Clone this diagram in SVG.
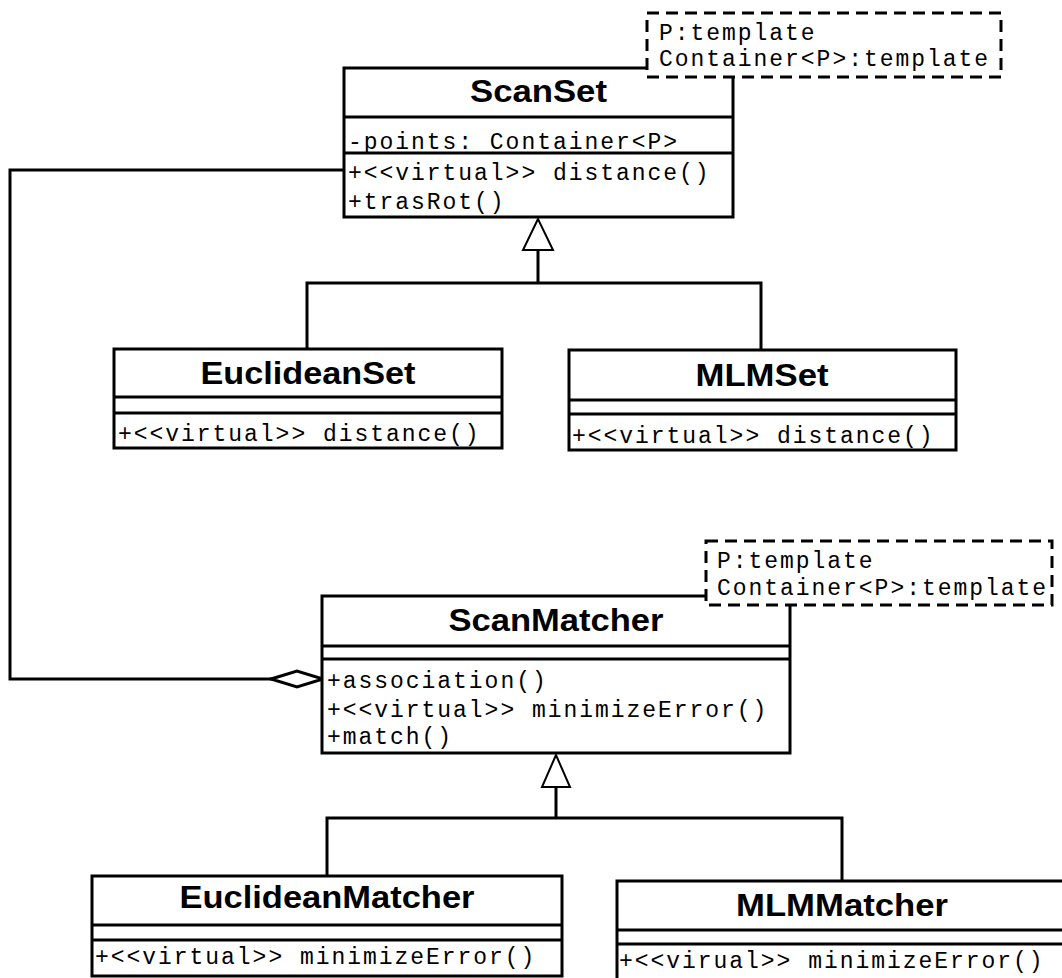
<svg xmlns="http://www.w3.org/2000/svg" width="1062" height="978" viewBox="0 0 1062 978">
<style>
.box{fill:#fff;stroke:#000;stroke-width:3}
.div{stroke:#000;stroke-width:3}
.note{fill:#fff;stroke:#000;stroke-width:3;stroke-dasharray:12 7}
.title{font-family:"Liberation Sans",Arial,sans-serif;font-weight:bold;font-size:31px;text-anchor:middle;fill:#000}
.mono{font-family:"Liberation Mono","Courier New",monospace;font-size:23px;letter-spacing:1.96px;fill:#000}
.conn{fill:none;stroke:#000;stroke-width:3}
.tri{fill:#fff;stroke:#000;stroke-width:2}
</style>
<rect width="1062" height="978" fill="#fff"/>

<g id="connectors">
  <path class="conn" d="M344,170 H10 V679 H272"/>
  <polygon points="271,679 297,671 323,679 297,687" fill="#fff" stroke="#000" stroke-width="3"/>
  <path class="conn" d="M538,250 V283 M307,349 V283 H761 V350"/>
  <polygon class="tri" points="538,219 523,250 553,250"/>
  <path class="conn" d="M556,787 V818 M327,876 V818 H842 V881"/>
  <polygon class="tri" points="556,755 542,787 570,787"/>
</g>

<g id="ScanSet">
  <rect class="box" x="344" y="68" width="389" height="149"/>
  <line class="div" x1="344" y1="117" x2="733" y2="117"/>
  <line class="div" x1="344" y1="153" x2="733" y2="153"/>
  <text class="title" x="538.5" y="102" textLength="137" lengthAdjust="spacingAndGlyphs">ScanSet</text>
  <text class="mono" x="348" y="149">-points: Container&lt;P&gt;</text>
  <text class="mono" x="348" y="180">+&lt;&lt;virtual&gt;&gt; distance()</text>
  <text class="mono" x="348" y="209">+trasRot()</text>
</g>

<g id="ScanSetTemplate">
  <rect class="note" x="647" y="13" width="354" height="64"/>
  <text class="mono" x="659" y="40">P:template</text>
  <text class="mono" x="659" y="66">Container&lt;P&gt;:template</text>
</g>

<g id="EuclideanSet">
  <rect class="box" x="114" y="349" width="388" height="99"/>
  <line class="div" x1="114" y1="397" x2="502" y2="397"/>
  <line class="div" x1="114" y1="413" x2="502" y2="413"/>
  <text class="title" x="308" y="384" textLength="215" lengthAdjust="spacingAndGlyphs">EuclideanSet</text>
  <text class="mono" x="118" y="441">+&lt;&lt;virtual&gt;&gt; distance()</text>
</g>

<g id="MLMSet">
  <rect class="box" x="569" y="350" width="387" height="100"/>
  <line class="div" x1="569" y1="400" x2="956" y2="400"/>
  <line class="div" x1="569" y1="414" x2="956" y2="414"/>
  <text class="title" x="762" y="386" textLength="133" lengthAdjust="spacingAndGlyphs">MLMSet</text>
  <text class="mono" x="572" y="443">+&lt;&lt;virtual&gt;&gt; distance()</text>
</g>

<g id="ScanMatcher">
  <rect class="box" x="322" y="596" width="468" height="157"/>
  <line class="div" x1="322" y1="646" x2="790" y2="646"/>
  <line class="div" x1="322" y1="659" x2="790" y2="659"/>
  <text class="title" x="556" y="631" textLength="215" lengthAdjust="spacingAndGlyphs">ScanMatcher</text>
  <text class="mono" x="327" y="688">+association()</text>
  <text class="mono" x="327" y="717">+&lt;&lt;virtual&gt;&gt; minimizeError()</text>
  <text class="mono" x="327" y="744">+match()</text>
</g>

<g id="ScanMatcherTemplate">
  <rect class="note" x="706" y="541" width="346" height="64"/>
  <text class="mono" x="717" y="568">P:template</text>
  <text class="mono" x="717" y="595">Container&lt;P&gt;:template</text>
</g>

<g id="EuclideanMatcher">
  <rect class="box" x="92" y="876" width="470" height="100"/>
  <line class="div" x1="92" y1="925" x2="562" y2="925"/>
  <line class="div" x1="92" y1="940" x2="562" y2="940"/>
  <text class="title" x="327" y="908" textLength="295" lengthAdjust="spacingAndGlyphs">EuclideanMatcher</text>
  <text class="mono" x="95" y="964">+&lt;&lt;virtual&gt;&gt; minimizeError()</text>
</g>

<g id="MLMMatcher">
  <rect class="box" x="617" y="881" width="450" height="110"/>
  <line class="div" x1="617" y1="930" x2="1067" y2="930"/>
  <line class="div" x1="617" y1="944" x2="1067" y2="944"/>
  <text class="title" x="842" y="916" textLength="212" lengthAdjust="spacingAndGlyphs">MLMMatcher</text>
  <text class="mono" x="619" y="968">+&lt;&lt;virual&gt;&gt; minimizeError()</text>
</g>
</svg>
